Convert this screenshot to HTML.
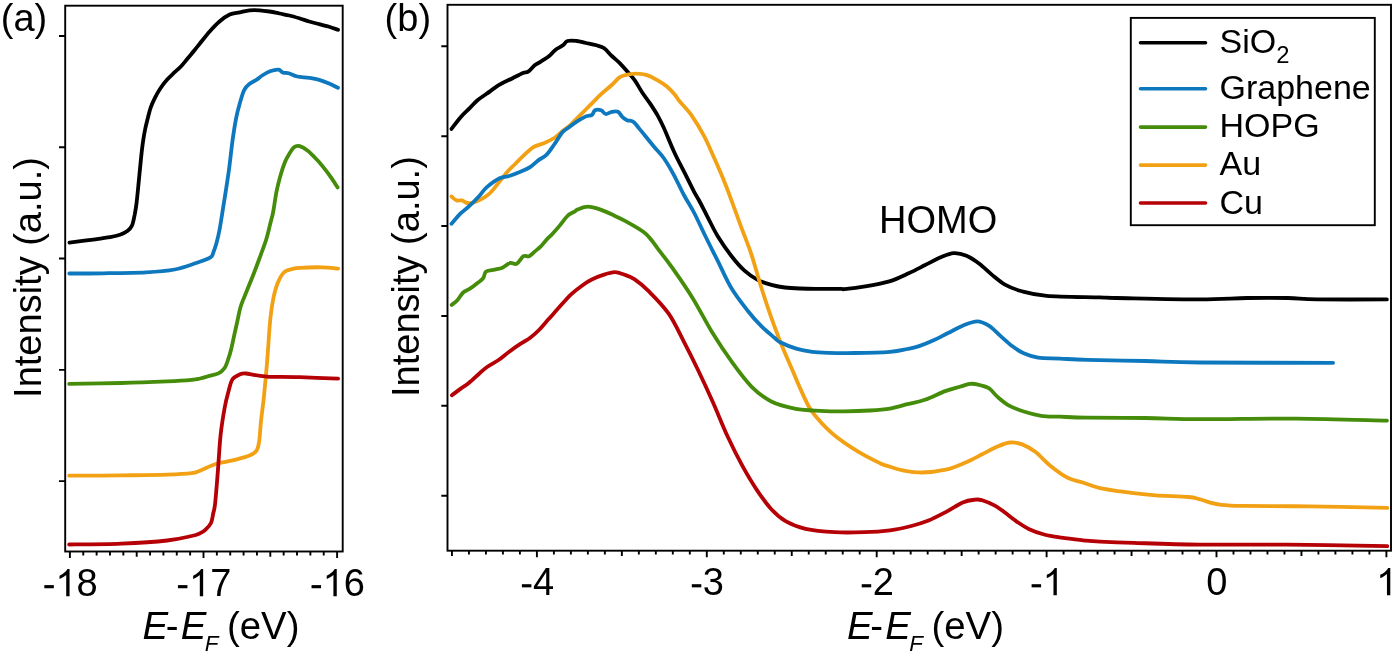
<!DOCTYPE html>
<html><head><meta charset="utf-8"><style>
html,body{margin:0;padding:0;background:#fff;}
svg{display:block;will-change:transform;}
text{font-family:"Liberation Sans",sans-serif;fill:#000;}
</style></head><body>
<svg width="1395" height="654" viewBox="0 0 1395 654">
<rect width="1395" height="654" fill="#fff"/>
<g fill="none" stroke="#000" stroke-width="1.9" stroke-linecap="butt">
<rect x="65.20" y="5.70" width="277.50" height="545.80"/>
<rect x="447.50" y="4.80" width="943.50" height="545.90"/>
<path d="M69.90,551.50V558.10M83.26,551.50V555.40M96.62,551.50V555.40M109.98,551.50V555.40M123.34,551.50V555.40M136.70,551.50V556.80M150.06,551.50V555.40M163.42,551.50V555.40M176.78,551.50V555.40M190.14,551.50V555.40M203.50,551.50V558.10M216.86,551.50V555.40M230.22,551.50V555.40M243.58,551.50V555.40M256.94,551.50V555.40M270.30,551.50V556.80M283.66,551.50V555.40M297.02,551.50V555.40M310.38,551.50V555.40M323.74,551.50V555.40M337.10,551.50V558.10M65.20,36.00H59.00M65.20,147.28H59.00M65.20,258.56H59.00M65.20,369.84H59.00M65.20,481.12H59.00"/>
<path d="M451.95,550.70V556.00M468.94,550.70V554.60M485.93,550.70V554.60M502.92,550.70V554.60M519.91,550.70V554.60M536.90,550.70V557.30M553.89,550.70V554.60M570.88,550.70V554.60M587.87,550.70V554.60M604.86,550.70V554.60M621.85,550.70V556.00M638.84,550.70V554.60M655.83,550.70V554.60M672.82,550.70V554.60M689.81,550.70V554.60M706.80,550.70V557.30M723.79,550.70V554.60M740.78,550.70V554.60M757.77,550.70V554.60M774.76,550.70V554.60M791.75,550.70V556.00M808.74,550.70V554.60M825.73,550.70V554.60M842.72,550.70V554.60M859.71,550.70V554.60M876.70,550.70V557.30M893.69,550.70V554.60M910.68,550.70V554.60M927.67,550.70V554.60M944.66,550.70V554.60M961.65,550.70V556.00M978.64,550.70V554.60M995.63,550.70V554.60M1012.62,550.70V554.60M1029.61,550.70V554.60M1046.60,550.70V557.30M1063.59,550.70V554.60M1080.58,550.70V554.60M1097.57,550.70V554.60M1114.56,550.70V554.60M1131.55,550.70V556.00M1148.54,550.70V554.60M1165.53,550.70V554.60M1182.52,550.70V554.60M1199.51,550.70V554.60M1216.50,550.70V557.30M1233.49,550.70V554.60M1250.48,550.70V554.60M1267.47,550.70V554.60M1284.46,550.70V554.60M1301.45,550.70V556.00M1318.44,550.70V554.60M1335.43,550.70V554.60M1352.42,550.70V554.60M1369.41,550.70V554.60M1386.40,550.70V557.30M447.50,46.30H441.30M447.50,136.18H441.30M447.50,226.06H441.30M447.50,315.94H441.30M447.50,405.82H441.30M447.50,495.70H441.30"/>
</g>
<g fill="none" stroke-width="3.80" stroke-linecap="round" stroke-linejoin="round">
<path d="M69.5,242.7 C72.7,242.3 81.9,241.0 88.7,240.1 C95.5,239.2 105.0,238.1 110.2,237.2 C115.4,236.3 117.1,235.8 120.0,234.8 C122.9,233.8 125.4,232.6 127.4,231.1 C129.4,229.6 130.8,228.3 132.0,225.6 C133.2,222.8 133.9,218.3 134.7,214.6 C135.4,210.9 135.9,208.4 136.5,203.5 C137.1,198.6 137.8,191.2 138.4,185.1 C139.0,179.0 139.6,172.9 140.2,166.8 C140.8,160.7 141.5,153.1 142.1,148.4 C142.7,143.7 143.0,141.7 143.5,138.5 C144.0,135.3 144.6,132.0 145.2,129.0 C145.8,126.0 146.3,124.0 147.2,120.5 C148.1,117.0 149.3,111.5 150.6,107.8 C151.9,104.1 153.2,101.4 154.8,98.2 C156.4,95.0 158.2,91.6 160.3,88.5 C162.4,85.4 164.9,82.2 167.2,79.6 C169.5,77.0 171.8,74.9 174.1,72.7 C176.4,70.5 178.6,68.9 180.9,66.5 C183.2,64.1 185.5,61.0 187.8,58.3 C190.1,55.5 192.7,52.5 194.7,50.0 C196.7,47.5 197.4,46.6 199.9,43.5 C202.4,40.4 206.6,34.9 209.9,31.2 C213.2,27.5 216.5,24.0 219.8,21.2 C223.1,18.4 226.4,16.0 229.7,14.5 C233.0,13.0 236.4,13.0 239.7,12.3 C243.0,11.6 246.3,10.6 249.6,10.3 C252.9,10.0 256.3,10.1 259.6,10.3 C262.9,10.5 266.2,11.0 269.5,11.5 C272.8,12.0 276.1,12.8 279.4,13.5 C282.7,14.2 286.1,14.7 289.4,15.5 C292.7,16.3 296.0,17.3 299.3,18.3 C302.6,19.3 305.9,20.5 309.2,21.5 C312.5,22.5 315.9,23.3 319.2,24.2 C322.5,25.1 326.0,25.9 329.1,26.8 C332.2,27.7 336.5,29.3 338.0,29.8" stroke="#000000"/>
<path d="M69.3,273.5 C74.9,273.5 90.2,273.5 103.0,273.3 C115.8,273.1 134.1,272.9 146.0,272.3 C157.9,271.7 166.3,271.1 174.7,269.5 C183.1,267.9 190.2,265.0 196.2,263.0 C202.2,261.0 207.6,259.1 210.5,257.3 C213.4,255.5 212.5,254.4 213.5,252.0 C214.5,249.6 215.5,246.7 216.5,243.0 C217.5,239.3 218.3,236.2 219.5,230.0 C220.7,223.8 221.8,216.0 223.4,206.0 C225.0,196.0 227.4,181.2 228.9,170.2 C230.4,159.2 231.4,148.6 232.6,140.0 C233.8,131.4 234.8,125.1 236.0,118.8 C237.2,112.5 238.7,107.1 240.1,102.3 C241.5,97.5 242.7,93.0 244.3,89.9 C245.9,86.8 247.7,85.4 249.8,83.7 C251.9,82.0 254.6,81.0 256.7,79.6 C258.8,78.2 260.0,76.9 262.2,75.5 C264.4,74.1 267.3,72.3 270.0,71.3 C272.7,70.3 276.4,69.4 278.5,69.6 C280.6,69.8 280.8,71.8 282.6,72.4 C284.4,73.1 286.9,72.8 289.4,73.5 C291.8,74.2 294.0,75.8 297.3,76.5 C300.6,77.2 305.6,77.3 309.2,77.9 C312.8,78.5 315.9,79.0 319.2,79.9 C322.5,80.8 326.0,82.2 329.1,83.5 C332.2,84.8 336.5,87.1 338.0,87.8" stroke="#0e78be"/>
<path d="M69.2,383.9 C77.9,383.8 104.9,383.4 121.2,383.0 C137.5,382.6 155.4,381.9 167.1,381.4 C178.8,380.9 186.1,380.4 191.6,379.9 C197.1,379.4 197.3,379.1 200.0,378.5 C202.7,377.9 204.9,377.2 208.0,376.3 C211.1,375.4 215.7,374.8 218.4,373.4 C221.2,372.0 222.8,370.5 224.5,368.1 C226.2,365.7 227.2,362.2 228.3,358.9 C229.5,355.6 230.4,352.3 231.4,348.2 C232.4,344.1 233.4,339.0 234.4,334.4 C235.4,329.8 236.5,325.2 237.5,320.6 C238.5,316.0 239.4,310.8 240.6,306.8 C241.8,302.8 242.3,302.0 244.5,296.5 C246.7,291.0 251.0,280.6 253.7,273.7 C256.4,266.8 258.5,261.0 260.6,255.3 C262.7,249.6 264.8,244.2 266.3,239.3 C267.8,234.4 268.7,230.2 269.8,225.6 C270.9,221.0 272.1,217.5 273.2,211.8 C274.3,206.1 275.3,197.7 276.6,191.2 C277.9,184.7 279.8,177.8 281.2,172.9 C282.6,168.0 283.8,165.0 285.0,162.0 C286.2,159.0 287.1,157.5 288.6,155.0 C290.1,152.5 292.1,148.7 294.0,147.2 C295.9,145.7 297.5,145.5 299.8,146.1 C302.1,146.7 304.9,148.4 307.8,150.7 C310.7,153.0 314.3,156.9 317.0,159.8 C319.7,162.7 321.6,165.0 323.9,167.9 C326.2,170.8 328.5,173.8 330.8,177.1 C333.1,180.3 336.5,185.7 337.6,187.4" stroke="#448c0a"/>
<path d="M69.2,475.7 C77.9,475.6 104.9,475.6 121.2,475.4 C137.5,475.2 155.4,475.1 167.1,474.7 C178.8,474.3 186.1,473.9 191.6,473.2 C197.1,472.5 195.8,472.3 200.0,470.7 C204.2,469.1 210.6,465.6 216.5,463.8 C222.4,462.0 230.2,461.1 235.7,459.7 C241.2,458.3 246.1,457.1 249.5,455.6 C252.9,454.1 254.8,453.2 256.4,450.9 C258.0,448.6 258.3,446.8 259.1,441.9 C259.9,436.9 260.2,428.8 261.0,421.2 C261.8,413.6 263.0,405.9 264.0,396.0 C265.0,386.1 266.1,374.6 267.1,361.8 C268.2,349.0 269.2,329.8 270.3,319.1 C271.4,308.4 272.2,303.8 273.5,297.7 C274.8,291.6 276.0,287.1 277.8,282.8 C279.6,278.5 281.7,274.4 284.2,272.1 C286.7,269.8 290.1,269.6 292.7,268.9 C295.3,268.2 295.1,268.1 300.0,267.8 C304.9,267.5 315.8,267.2 322.2,267.3 C328.6,267.4 335.5,268.4 338.1,268.6" stroke="#f2a114"/>
<path d="M69.2,544.5 C77.9,544.4 104.9,544.3 121.2,543.6 C137.5,542.9 155.4,541.8 167.1,540.5 C178.8,539.2 186.1,537.2 191.6,536.0 C197.1,534.8 197.7,534.3 200.0,533.3 C202.3,532.3 203.5,531.5 205.3,529.8 C207.1,528.1 209.7,525.8 211.0,523.0 C212.3,520.2 212.6,516.2 213.3,513.0 C214.0,509.8 214.3,510.8 215.1,503.7 C215.9,496.6 217.0,482.1 217.9,470.7 C218.8,459.2 219.5,445.5 220.6,435.0 C221.7,424.5 223.4,414.8 224.7,407.5 C226.0,400.2 227.3,395.7 228.6,391.0 C229.9,386.3 230.6,382.1 232.5,379.3 C234.4,376.5 237.8,375.3 240.0,374.3 C242.2,373.3 243.7,373.4 246.0,373.5 C248.3,373.6 250.6,374.4 253.8,374.9 C257.0,375.4 261.8,376.1 265.0,376.4 C268.2,376.7 267.5,376.8 273.3,376.9 C279.1,377.0 289.2,376.9 300.0,377.2 C310.8,377.5 331.8,378.4 338.1,378.6" stroke="#b50006"/>

<path d="M451.5,128.9 C453.0,127.0 457.6,120.7 460.6,117.2 C463.6,113.7 466.9,110.9 469.7,108.1 C472.5,105.3 474.7,102.7 477.5,100.3 C480.3,97.9 482.9,96.4 486.6,93.8 C490.3,91.2 495.3,87.3 499.6,84.7 C503.9,82.1 508.7,80.2 512.6,78.2 C516.5,76.2 520.4,74.1 523.0,73.0 C525.6,71.9 526.2,73.0 528.2,71.7 C530.2,70.4 532.7,66.8 534.7,65.2 C536.7,63.6 537.6,63.6 540.0,62.1 C542.4,60.6 546.7,58.0 549.2,56.0 C551.8,54.0 553.0,51.7 555.3,49.9 C557.6,48.1 560.9,46.8 562.9,45.3 C564.9,43.8 565.2,41.7 567.5,41.0 C569.8,40.3 573.6,40.7 576.7,41.0 C579.8,41.3 582.6,42.3 585.9,43.0 C589.2,43.7 593.5,44.4 596.5,45.3 C599.5,46.2 601.7,46.5 604.2,48.3 C606.8,50.1 609.2,53.6 611.8,56.0 C614.3,58.4 617.0,60.4 619.5,62.9 C622.0,65.5 624.6,68.4 627.1,71.3 C629.6,74.2 632.2,76.8 634.8,80.4 C637.3,84.0 639.9,88.9 642.4,92.7 C644.9,96.5 647.5,99.6 650.0,103.4 C652.5,107.2 655.4,111.5 657.7,115.6 C660.0,119.7 661.1,121.9 663.8,127.8 C666.5,133.7 670.4,143.9 673.8,151.2 C677.1,158.5 680.5,164.7 683.9,171.4 C687.3,178.1 691.5,186.8 694.0,191.6 C696.5,196.4 696.9,196.3 699.1,200.5 C701.4,204.7 704.4,210.9 707.5,216.8 C710.6,222.7 713.7,229.6 717.6,236.0 C721.5,242.4 726.5,249.7 731.0,255.5 C735.5,261.3 740.0,266.6 744.5,270.7 C749.0,274.8 753.5,277.8 758.0,280.1 C762.5,282.5 766.9,283.6 771.4,284.8 C775.9,286.0 780.1,286.9 784.9,287.5 C789.7,288.1 794.9,288.3 800.0,288.5 C805.1,288.7 808.8,288.8 815.7,288.8 C822.6,288.9 836.6,288.7 841.4,288.8 C846.2,288.9 840.2,289.6 844.5,289.2 C848.8,288.8 859.4,287.5 866.9,286.2 C874.4,284.9 882.4,283.5 889.4,281.4 C896.4,279.2 902.8,276.0 908.7,273.3 C914.6,270.6 919.4,268.0 924.7,265.3 C930.1,262.6 936.0,259.3 940.8,257.3 C945.6,255.3 949.3,253.4 953.6,253.1 C957.9,252.8 962.2,253.9 966.5,255.7 C970.8,257.5 975.0,260.5 979.3,263.7 C983.6,266.9 987.8,271.4 992.1,274.9 C996.4,278.4 1000.2,281.9 1005.0,284.6 C1009.8,287.3 1014.0,289.1 1021.0,291.0 C1028.0,292.9 1033.5,294.7 1046.7,295.8 C1059.9,296.9 1088.4,297.0 1100.0,297.4 C1111.6,297.8 1099.6,297.7 1116.3,298.0 C1133.0,298.3 1178.2,299.4 1200.0,299.4 C1221.8,299.4 1232.6,298.2 1247.3,298.0 C1262.0,297.8 1276.4,297.8 1288.0,298.0 C1299.6,298.2 1300.6,299.2 1317.1,299.4 C1333.6,299.6 1375.3,299.4 1386.9,299.4" stroke="#000000"/>
<path d="M451.5,196.5 C452.4,197.2 455.0,199.8 456.7,200.4 C458.4,201.1 460.2,200.0 461.9,200.4 C463.6,200.8 465.2,202.7 467.1,203.0 C469.1,203.3 471.2,203.2 473.6,202.5 C476.0,201.8 478.8,200.5 481.4,199.1 C484.0,197.7 486.6,196.3 489.2,193.9 C491.8,191.5 494.0,188.5 497.0,184.8 C500.0,181.1 504.4,175.3 507.4,171.8 C510.4,168.3 512.6,166.6 515.2,164.0 C517.8,161.4 520.0,159.0 523.0,156.2 C526.0,153.4 529.9,149.3 533.4,147.1 C536.9,144.9 540.3,144.7 543.8,143.2 C547.3,141.7 551.2,139.9 554.2,138.0 C557.2,136.1 559.4,133.6 562.0,131.5 C564.6,129.4 567.3,127.7 570.0,125.3 C572.7,122.9 574.8,120.5 578.2,117.1 C581.6,113.7 586.6,108.7 590.4,104.9 C594.2,101.1 597.5,97.5 601.1,94.2 C604.7,90.9 608.7,87.8 611.8,85.0 C614.9,82.2 617.2,79.1 619.5,77.4 C621.8,75.8 622.8,75.7 625.6,75.1 C628.4,74.5 632.7,73.6 636.3,73.6 C639.9,73.6 643.4,74.0 647.0,75.1 C650.6,76.2 654.4,78.5 657.7,80.4 C661.0,82.3 664.1,84.2 666.9,86.5 C669.7,88.8 672.3,91.7 674.5,94.2 C676.7,96.8 677.3,98.5 680.0,101.8 C682.7,105.1 686.7,108.5 690.7,114.2 C694.7,119.9 700.2,128.8 704.1,136.1 C708.0,143.4 710.8,150.4 714.2,158.0 C717.6,165.6 720.9,173.1 724.3,181.5 C727.7,189.9 731.6,200.8 734.4,208.4 C737.2,216.0 738.3,219.3 741.1,226.9 C743.9,234.5 747.8,243.7 751.2,253.8 C754.6,263.9 757.9,276.8 761.3,287.5 C764.7,298.2 768.0,308.3 771.4,317.8 C774.8,327.3 778.1,336.3 781.5,344.7 C784.9,353.1 788.5,361.0 791.6,368.2 C794.7,375.4 797.2,381.7 800.0,388.0 C802.8,394.3 805.9,401.3 808.5,406.0 C811.1,410.7 812.5,412.3 815.5,416.0 C818.5,419.7 822.8,424.5 826.5,428.1 C830.2,431.7 833.5,434.6 837.6,437.8 C841.7,441.0 846.7,444.4 851.3,447.4 C855.9,450.4 860.0,452.9 865.1,455.7 C870.2,458.4 877.5,462.1 881.6,463.9 C885.8,465.7 886.5,465.6 890.0,466.7 C893.5,467.8 897.4,469.3 902.8,470.3 C908.1,471.3 915.0,472.6 922.1,472.5 C929.2,472.4 938.6,471.3 945.7,469.7 C952.8,468.1 958.8,465.4 964.9,462.8 C971.0,460.2 976.8,457.0 982.1,454.3 C987.5,451.6 992.4,448.8 997.0,446.8 C1001.6,444.8 1005.6,442.9 1009.9,442.5 C1014.2,442.1 1018.4,443.0 1022.7,444.6 C1027.0,446.2 1030.9,448.5 1035.6,452.1 C1040.2,455.7 1045.2,461.7 1050.6,466.0 C1055.9,470.3 1062.3,475.1 1067.7,477.8 C1073.1,480.6 1077.3,480.8 1082.7,482.5 C1088.1,484.2 1091.5,486.3 1100.0,488.1 C1108.5,489.9 1124.4,492.0 1133.7,493.2 C1143.0,494.4 1146.5,494.8 1155.6,495.4 C1164.7,496.0 1181.1,496.4 1188.4,497.0 C1195.7,497.6 1195.7,498.2 1199.3,499.1 C1202.9,500.0 1206.5,501.7 1210.2,502.6 C1213.9,503.6 1215.7,504.2 1221.2,504.8 C1226.7,505.4 1228.4,505.6 1243.0,505.9 C1257.6,506.2 1284.5,506.1 1308.6,506.4 C1332.6,506.7 1374.2,507.6 1387.3,507.9" stroke="#f2a114"/>
<path d="M451.5,223.8 C453.0,222.1 457.8,216.2 460.6,213.4 C463.4,210.6 465.4,209.7 468.4,206.9 C471.4,204.1 475.8,199.8 478.8,196.5 C481.8,193.2 483.1,190.4 486.6,187.4 C490.1,184.4 495.7,180.2 499.6,178.3 C503.5,176.4 506.5,176.8 510.0,175.7 C513.5,174.6 516.9,173.3 520.4,171.8 C523.9,170.3 527.8,168.6 530.8,166.6 C533.8,164.6 536.0,162.0 538.6,160.1 C541.2,158.2 543.8,157.5 546.4,154.9 C549.0,152.3 551.6,148.2 554.2,144.5 C556.8,140.8 559.7,135.6 562.0,132.8 C564.3,130.1 565.5,129.8 568.0,128.0 C570.5,126.2 573.7,123.6 576.7,121.7 C579.7,119.8 583.4,117.6 585.9,116.4 C588.4,115.2 590.5,115.8 592.0,114.8 C593.5,113.8 593.5,111.0 595.0,110.2 C596.5,109.4 599.3,109.6 601.1,110.2 C602.9,110.8 603.9,113.7 605.7,114.0 C607.5,114.3 609.8,112.2 611.8,111.8 C613.8,111.4 616.2,110.9 618.0,111.8 C619.8,112.7 621.0,115.7 622.5,117.1 C624.0,118.5 625.3,119.4 627.1,120.2 C628.9,121.0 631.2,120.3 633.2,121.7 C635.2,123.1 635.9,124.5 639.3,128.6 C642.7,132.7 649.5,141.3 653.6,146.2 C657.7,151.1 660.3,153.2 663.7,158.0 C667.1,162.8 670.4,168.6 673.8,174.8 C677.2,181.0 680.4,188.6 683.9,195.0 C687.4,201.4 690.9,206.5 694.5,213.5 C698.1,220.5 701.9,229.2 705.8,237.0 C709.6,244.8 713.4,252.2 717.6,260.6 C721.8,269.0 726.0,279.1 731.0,287.5 C736.0,295.9 742.9,304.6 747.9,311.0 C752.9,317.4 756.8,321.7 761.3,326.2 C765.8,330.7 771.6,335.3 774.8,338.0 C777.9,340.7 776.6,340.4 780.2,342.2 C783.8,344.0 790.9,347.0 796.3,348.6 C801.6,350.2 807.0,351.1 812.3,351.8 C817.6,352.5 821.3,352.6 828.3,352.8 C835.3,353.0 843.9,353.1 854.2,353.0 C864.5,352.9 881.1,352.6 890.0,351.9 C898.9,351.2 902.5,350.0 907.4,349.0 C912.2,348.0 914.7,347.6 919.1,346.1 C923.5,344.7 928.8,342.5 933.6,340.3 C938.4,338.1 943.2,335.4 948.1,333.0 C953.0,330.6 957.9,327.6 962.7,325.7 C967.6,323.8 972.9,321.4 977.2,321.4 C981.6,321.4 984.9,323.3 988.8,325.7 C992.7,328.1 996.5,332.5 1000.4,335.9 C1004.3,339.3 1008.2,343.2 1012.1,346.1 C1016.0,349.0 1019.4,351.4 1023.7,353.3 C1028.0,355.2 1032.2,356.8 1038.2,357.7 C1044.2,358.6 1051.8,358.2 1060.0,358.6 C1068.2,359.0 1073.0,359.5 1087.2,359.9 C1101.4,360.3 1126.5,360.6 1145.3,361.0 C1164.1,361.4 1168.7,362.2 1200.0,362.5 C1231.3,362.8 1310.9,362.8 1333.1,362.8" stroke="#0e78be"/>
<path d="M451.7,304.9 C452.6,304.1 455.5,302.3 457.4,300.2 C459.3,298.1 461.1,294.4 463.2,292.5 C465.3,290.6 467.5,290.3 469.9,288.7 C472.3,287.1 475.3,284.8 477.5,283.0 C479.7,281.2 481.8,280.1 483.2,278.2 C484.6,276.3 484.2,272.9 486.1,271.5 C488.0,270.1 492.0,270.2 494.7,269.6 C497.4,269.0 499.8,268.8 502.4,267.7 C504.9,266.6 507.6,263.5 510.0,262.9 C512.4,262.2 514.5,264.9 516.7,263.8 C518.9,262.7 521.3,257.5 523.4,256.2 C525.5,254.9 527.2,257.0 529.1,256.2 C531.0,255.4 533.0,253.0 534.9,251.4 C536.8,249.8 538.7,248.5 540.6,246.6 C542.5,244.7 544.4,242.0 546.3,239.9 C548.2,237.8 549.9,236.6 552.1,234.2 C554.3,231.8 557.2,228.6 559.7,225.6 C562.2,222.6 564.9,218.4 567.4,216.0 C569.9,213.6 573.2,212.4 575.0,211.3 C576.8,210.2 575.7,210.2 577.9,209.4 C580.1,208.6 584.4,206.7 588.0,206.7 C591.6,206.7 595.6,208.0 599.8,209.4 C604.0,210.8 609.0,213.2 613.2,215.1 C617.4,217.0 619.9,218.1 625.0,220.9 C630.1,223.7 639.2,228.8 643.6,232.0 C648.0,235.2 648.9,237.0 651.4,240.0 C653.9,243.0 655.0,244.9 658.7,249.8 C662.4,254.7 667.7,261.2 673.4,269.4 C679.1,277.5 686.5,288.1 693.0,298.7 C699.5,309.3 706.1,322.4 712.6,333.0 C719.1,343.6 725.7,353.4 732.2,362.4 C738.7,371.4 745.2,380.3 751.7,386.8 C758.2,393.3 763.9,397.8 771.3,401.5 C778.6,405.2 787.7,407.3 795.8,408.9 C803.9,410.4 811.9,410.4 820.0,410.8 C828.1,411.2 836.4,411.4 844.7,411.3 C853.0,411.2 862.5,410.9 870.0,410.5 C877.5,410.1 883.8,409.7 890.0,408.6 C896.2,407.6 901.6,405.7 907.4,404.2 C913.2,402.7 918.6,402.0 924.9,399.8 C931.2,397.6 939.4,393.3 945.2,391.1 C951.0,388.9 955.6,388.0 959.7,386.8 C963.8,385.6 967.0,384.3 969.9,383.9 C972.8,383.5 974.1,383.7 977.2,384.4 C980.4,385.1 985.4,386.1 988.8,388.2 C992.2,390.3 994.1,394.0 997.5,396.9 C1000.9,399.8 1004.7,403.2 1009.1,405.6 C1013.5,408.0 1018.4,409.8 1023.7,411.5 C1029.0,413.2 1035.0,414.9 1041.1,415.8 C1047.1,416.7 1052.3,416.4 1060.0,416.7 C1067.7,417.0 1073.0,417.5 1087.2,417.7 C1101.4,417.9 1126.5,417.8 1145.3,418.0 C1164.1,418.2 1174.8,419.1 1200.0,419.2 C1225.2,419.3 1265.5,418.4 1296.7,418.6 C1327.9,418.8 1371.9,420.3 1386.9,420.6" stroke="#448c0a"/>
<path d="M451.9,395.3 C453.4,394.1 458.2,390.5 461.1,388.4 C464.0,386.3 466.1,385.2 469.1,382.7 C472.2,380.2 476.3,376.2 479.4,373.5 C482.4,370.8 484.1,369.0 487.4,366.7 C490.6,364.4 495.3,362.3 498.9,359.8 C502.5,357.3 505.6,354.4 509.2,351.7 C512.8,349.0 517.2,346.0 520.7,343.7 C524.2,341.4 526.9,340.3 529.9,338.0 C532.9,335.7 536.0,333.1 539.0,330.0 C542.0,326.9 545.1,323.1 548.2,319.6 C551.3,316.2 553.6,313.5 557.4,309.3 C561.2,305.1 566.9,298.4 571.1,294.4 C575.3,290.4 579.2,287.7 582.6,285.2 C586.0,282.7 588.3,281.2 591.8,279.5 C595.2,277.8 599.5,276.1 603.3,274.9 C607.1,273.7 611.3,272.3 614.7,272.2 C618.1,272.1 620.6,273.3 623.9,274.5 C627.2,275.7 630.1,276.4 634.3,279.2 C638.5,282.0 643.2,285.7 648.9,291.4 C654.6,297.1 662.8,305.2 668.5,313.4 C674.2,321.5 678.3,330.9 683.2,340.3 C688.1,349.7 693.0,359.5 697.9,369.7 C702.8,379.9 707.7,390.5 712.6,401.5 C717.5,412.5 722.4,425.2 727.3,435.8 C732.2,446.4 737.1,456.2 742.0,465.2 C746.9,474.2 751.7,482.3 756.6,489.6 C761.5,496.9 766.4,503.9 771.3,509.2 C776.2,514.5 780.3,518.1 786.0,521.4 C791.7,524.7 797.5,527.0 805.6,528.8 C813.8,530.6 825.1,531.6 834.9,532.2 C844.7,532.8 855.1,532.5 864.3,532.2 C873.5,531.9 882.1,531.3 890.0,530.3 C897.9,529.3 905.0,527.6 911.4,526.0 C917.8,524.4 922.8,522.9 928.5,520.6 C934.2,518.3 940.0,515.1 945.7,512.1 C951.4,509.1 957.8,504.5 962.8,502.4 C967.8,500.3 972.4,500.0 975.6,499.6 C978.8,499.2 978.9,499.3 982.1,500.3 C985.3,501.3 991.0,503.5 994.9,505.6 C998.8,507.7 1001.7,510.2 1005.6,513.1 C1009.5,516.0 1014.6,520.1 1018.5,522.8 C1022.4,525.5 1024.9,527.2 1029.2,529.2 C1033.5,531.2 1038.8,533.1 1044.1,534.5 C1049.4,535.9 1054.9,536.7 1061.3,537.7 C1067.7,538.7 1076.2,539.6 1082.7,540.3 C1089.2,540.9 1091.5,541.2 1100.0,541.6 C1108.5,542.0 1117.2,542.4 1133.7,542.9 C1150.2,543.4 1173.8,544.3 1199.3,544.6 C1224.8,544.9 1255.5,544.4 1286.8,544.6 C1318.1,544.9 1370.5,545.9 1387.3,546.1" stroke="#b50006"/>

</g>
<rect x="1130.8" y="17.9" width="244" height="207.3" fill="none" stroke="#000" stroke-width="1.9"/>
<g stroke-width="3.6" stroke-linecap="round">
<line x1="1140.5" y1="42.7" x2="1205.5" y2="42.7" stroke="#000000"/>
<line x1="1140.5" y1="88.7" x2="1205.5" y2="88.7" stroke="#0e78be"/>
<line x1="1140.5" y1="127.1" x2="1205.5" y2="127.1" stroke="#448c0a"/>
<line x1="1140.5" y1="165.1" x2="1205.5" y2="165.1" stroke="#f2a114"/>
<line x1="1140.5" y1="203.0" x2="1205.5" y2="203.0" stroke="#b50006"/>
</g>
<text x="0.8" y="30.6" font-size="38">(a)</text>
<text x="384.6" y="31" font-size="38">(b)</text>
<rect x="44.34" y="585.10" width="9.50" height="3.15"/><path transform="translate(55.40,596.20) scale(0.01855,-0.01855)" d="M763,0L583,0L583,1147C518,1085 435,1032 360,990C300,958 255,942 222,930L222,1104C330,1155 420,1220 486,1276C560,1342 620,1410 646,1472L763,1472Z"/><text x="76.53" y="596.20" font-size="38">8</text>
<rect x="177.94" y="585.10" width="9.50" height="3.15"/><path transform="translate(189.00,596.20) scale(0.01855,-0.01855)" d="M763,0L583,0L583,1147C518,1085 435,1032 360,990C300,958 255,942 222,930L222,1104C330,1155 420,1220 486,1276C560,1342 620,1410 646,1472L763,1472Z"/><text x="210.13" y="596.20" font-size="38">7</text>
<rect x="311.54" y="585.10" width="9.50" height="3.15"/><path transform="translate(322.60,596.20) scale(0.01855,-0.01855)" d="M763,0L583,0L583,1147C518,1085 435,1032 360,990C300,958 255,942 222,930L222,1104C330,1155 420,1220 486,1276C560,1342 620,1410 646,1472L763,1472Z"/><text x="343.73" y="596.20" font-size="38">6</text>
<rect x="521.90" y="584.20" width="9.50" height="3.15"/><text x="532.96" y="595.30" font-size="38">4</text>
<rect x="691.80" y="584.20" width="9.50" height="3.15"/><text x="702.86" y="595.30" font-size="38">3</text>
<rect x="861.71" y="584.20" width="9.50" height="3.15"/><text x="872.76" y="595.30" font-size="38">2</text>
<rect x="1031.60" y="584.20" width="9.50" height="3.15"/><path transform="translate(1042.66,595.30) scale(0.01855,-0.01855)" d="M763,0L583,0L583,1147C518,1085 435,1032 360,990C300,958 255,942 222,930L222,1104C330,1155 420,1220 486,1276C560,1342 620,1410 646,1472L763,1472Z"/>
<text x="1206.24" y="595.30" font-size="38">0</text>
<path transform="translate(1376.14,595.30) scale(0.01855,-0.01855)" d="M763,0L583,0L583,1147C518,1085 435,1032 360,990C300,958 255,942 222,930L222,1104C330,1155 420,1220 486,1276C560,1342 620,1410 646,1472L763,1472Z"/>
<text x="142.4" y="638.9" font-size="38.4"><tspan font-style="italic">E</tspan><tspan dx="-2.3">-</tspan><tspan font-style="italic" dx="2.3">E</tspan><tspan font-style="italic" font-size="22.4" dy="11.8" dx="-1.6">F</tspan><tspan dy="-11.8" dx="-2.2"> (eV)</tspan></text>
<text x="846.9" y="638.9" font-size="38.4"><tspan font-style="italic">E</tspan><tspan dx="-2.3">-</tspan><tspan font-style="italic" dx="2.3">E</tspan><tspan font-style="italic" font-size="22.4" dy="11.8" dx="-1.6">F</tspan><tspan dy="-11.8" dx="-2.2"> (eV)</tspan></text>
<text transform="translate(40.6,277.5) rotate(-90)" font-size="38" text-anchor="middle">Intensity (a.u.)</text>
<text transform="translate(419.3,276.6) rotate(-90)" font-size="38" text-anchor="middle">Intensity (a.u.)</text>
<text x="879" y="233" font-size="38">HOMO</text>
<text x="1219.5" y="53" font-size="34">SiO<tspan font-size="23.8" dy="9.8">2</tspan></text>
<text x="1219.5" y="99.1" font-size="34">Graphene</text>
<text x="1219.5" y="137.4" font-size="34">HOPG</text>
<text x="1219.5" y="175.3" font-size="34">Au</text>
<text x="1219.5" y="213.5" font-size="34">Cu</text>
</svg>
</body></html>
